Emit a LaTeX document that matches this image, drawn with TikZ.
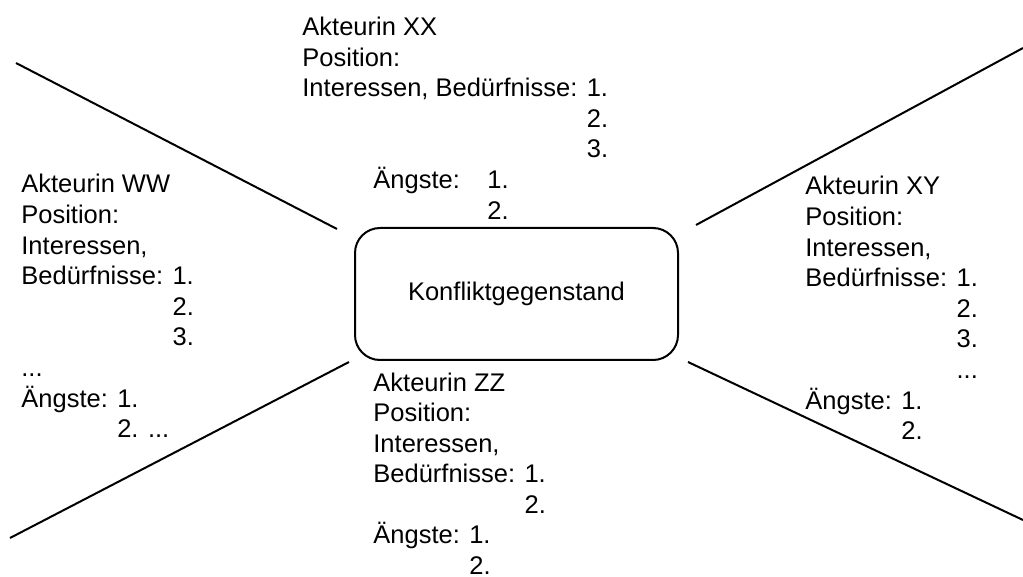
\documentclass[tikz,border=0pt]{standalone}
\usepackage{fontspec}
\setmainfont{Liberation Sans}
\usetikzlibrary{positioning}

\tikzset{
	akteurin/.style={anchor=base west, inner sep=0pt, font=\fontsize{12.75}{15.3}\selectfont},
	gegenstand/.style={draw, line width=1pt, rounded corners=12.5pt, minimum width=161.5pt, minimum height=66pt, inner sep=0pt, font=\fontsize{12.75}{15.3}\selectfont},
	strahl/.style={line width=1pt}
}

\begin{document}
\begin{tikzpicture}[x=0.5pt, y=-0.5pt]
		\useasboundingbox (0,0) rectangle (1023,577);

		\node[gegenstand] (kg) at (516.5,294) {Konfliktgegenstand};

		\coordinate (OL1) at (16,63);
		\coordinate (OL2) at (337,229);
		\coordinate (UL1) at (10,538);
		\coordinate (UL2) at (349,362);
		\coordinate (OR1) at (696,225);
		\coordinate (OR2) at (1023,48);
		\coordinate (UR1) at (688,362);
		\coordinate (UR2) at (1023,520);
		\draw[strahl] (OL1) -- (OL2);
		\draw[strahl] (UL1) -- (UL2);
		\draw[strahl] (OR1) -- (OR2);
		\draw[strahl] (UR1) -- (UR2);

		\node[akteurin] (xx) at (302,35.5) {\begin{tabular}[t]{@{}l@{}}
			Akteurin XX\\
			Position:\\
			Interessen, Bedürfnisse: 1.\\
			\hphantom{Interessen, Bedürfnisse: }2.\\
			\hphantom{Interessen, Bedürfnisse: }3.\\
			\hspace*{35.5pt}\makebox[57pt][l]{Ängste:}1.\\
			\hspace*{92.5pt}2.
		\end{tabular}};

		\node[akteurin] (ww) at (21,193) {\begin{tabular}[t]{@{}l@{}}
			Akteurin WW\\
			Position:\\
			Interessen,\\
			Bedürfnisse: 1.\\
			\hphantom{Bedürfnisse: }2.\\
			\hphantom{Bedürfnisse: }3.\\
			...\\
			Ängste: 1.\\
			\hphantom{Ängste: }2. ...
		\end{tabular}};

		\node[akteurin] (xy) at (805,195) {\begin{tabular}[t]{@{}l@{}}
			Akteurin XY\\
			Position:\\
			Interessen,\\
			Bedürfnisse: 1.\\
			\hphantom{Bedürfnisse: }2.\\
			\hphantom{Bedürfnisse: }3.\\
			\hphantom{Bedürfnisse: }...\\
			Ängste: 1.\\
			\hphantom{Ängste: }2.
		\end{tabular}};

		\node[akteurin] (zz) at (373,391) {\begin{tabular}[t]{@{}l@{}}
			Akteurin ZZ\\
			Position:\\
			Interessen,\\
			Bedürfnisse: 1.\\
			\hphantom{Bedürfnisse: }2.\\
			Ängste: 1.\\
			\hphantom{Ängste: }2.
		\end{tabular}};
	\end{tikzpicture}
\end{document}
